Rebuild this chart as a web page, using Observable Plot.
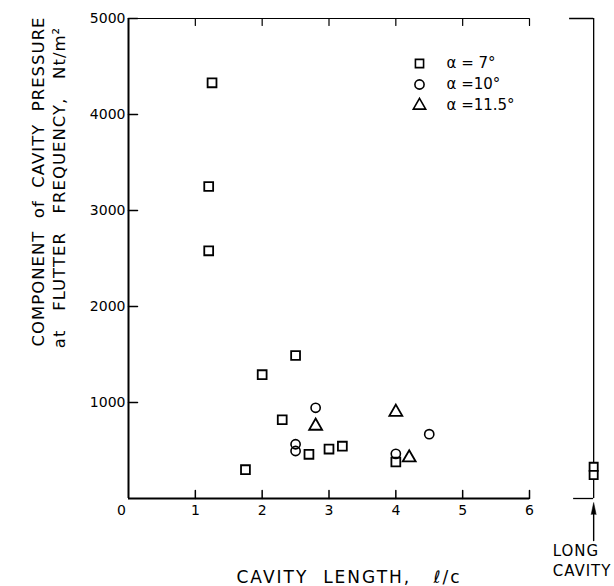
<!DOCTYPE html>
<html><head><meta charset="utf-8">
<script src="https://cdn.jsdelivr.net/npm/d3@7"></script>
<script src="https://cdn.jsdelivr.net/npm/@observablehq/plot@0.6"></script>
<style>
body{margin:0;background:#fff;}
</style></head><body><div id="chart"></div>
<script>
// tick values
const xTicks = [0, 1, 2, 3, 4, 5, 6];
const yTicks = [0, 1000, 2000, 3000, 4000, 5000];
// alpha = 7 deg (squares)
const sq7X = [1.25, 1.2, 1.2, 2.0, 2.5, 2.3, 1.75, 2.7, 3.0, 3.2, 4.0];
const sq7Y = [4330, 3250, 2580, 1290, 1490, 820, 300, 460, 515, 545, 380];
// alpha = 10 deg (circles)
const ci10X = [2.8, 2.5, 2.5, 4.0, 4.5];
const ci10Y = [945, 565, 495, 465, 670];
// alpha = 11.5 deg (triangles)
const tr115X = [2.8, 4.0, 4.2];
const tr115Y = [755, 900, 425];
// long cavity (alpha = 7 deg)
const longCavityY = [330, 245];
// texts
const legendLabels = ["α = 7°", "α =10°", "α =11.5°"];
const legendSymbols = ["square", "circle", "triangle"];
const xLabel = "CAVITY  LENGTH,   ℓ/c";
const yLabel1 = "COMPONENT  of  CAVITY  PRESSURE";
const yLabel2 = "at   FLUTTER   FREQUENCY,   Nt/m²";
const longLabel = "LONG\nCAVITY";

const LONG_X = 6.96; // column where the long-cavity results are plotted
const font = "DejaVu Sans";
const toPts = (xs, ys) => xs.map((x, i) => ({x, y: ys[i]}));

const marks = [
  // frame lines
  Plot.ruleX([0], {y1: 0, y2: 5000, strokeWidth: 2}),
  Plot.ruleY([0], {x1: 0, x2: 6, strokeWidth: 2}),
  Plot.ruleY([5000], {x1: 0, x2: 6, strokeWidth: 1.2}),
  // inward ticks
  Plot.vector(xTicks.slice(1), {x: d => d, y: 0, length: 8, r: 0, anchor: "start", rotate: 0, strokeWidth: 1.5}),
  Plot.vector(xTicks.slice(1), {x: d => d, y: 5000, length: 7, r: 0, anchor: "start", rotate: 180, strokeWidth: 1.2}),
  Plot.vector(yTicks.slice(1), {x: 0, y: d => d, length: 9, r: 0, anchor: "start", rotate: 90, strokeWidth: 1.5}),
  // tick labels
  Plot.text(xTicks.slice(1), {x: d => d, y: 0, text: d => String(d), dy: 12, fontSize: 14, fontFamily: font}),
  Plot.text([0], {x: d => d, y: 0, text: d => String(d), dx: -7, dy: 12, fontSize: 14, fontFamily: font}),
  Plot.text(yTicks.slice(1), {x: 0, y: d => d, text: d => String(d), textAnchor: "end", dx: -3, fontSize: 14, fontFamily: font}),
  // axis titles
  Plot.text([yLabel1], {frameAnchor: "left", text: d => d, rotate: -90, textAnchor: "middle", lineAnchor: "middle", dx: -90, dy: -77, fontSize: 16.5, fontFamily: font}),
  Plot.text([yLabel2], {frameAnchor: "left", text: d => d, rotate: -90, textAnchor: "middle", lineAnchor: "middle", dx: -69, dy: -71, fontSize: 16.5, fontFamily: font}),
  Plot.text([xLabel], {frameAnchor: "bottom", text: d => d, textAnchor: "middle", lineAnchor: "middle", dx: 20, dy: 79, fontSize: 17, fontFamily: font}),
  // data
  Plot.dot(toPts(sq7X, sq7Y), {x: "x", y: "y", symbol: "square", r: 5, stroke: "black", strokeWidth: 1.8}),
  Plot.dot(toPts(ci10X, ci10Y), {x: "x", y: "y", symbol: "circle", r: 4.6, stroke: "black", strokeWidth: 1.6}),
  Plot.dot(toPts(tr115X, tr115Y), {x: "x", y: "y", symbol: "triangle", r: 4.8, stroke: "black", strokeWidth: 1.8}),
  // long cavity column
  Plot.ruleX([LONG_X], {y1: 0, y2: 5000, strokeWidth: 1.3}),
  Plot.ruleY([5000], {x1: LONG_X - 0.36, x2: LONG_X, strokeWidth: 1.5}),
  Plot.ruleY([0], {x1: LONG_X - 0.3, x2: LONG_X, strokeWidth: 1.3}),
  Plot.dot(longCavityY, {x: () => LONG_X, y: d => d, symbol: "square", r: 4.6, stroke: "black", fill: "white", strokeWidth: 1.8}),
  Plot.vector([0], {x: () => LONG_X, y: d => d, length: 30, r: 0, anchor: "start", rotate: 0, dy: 42, strokeWidth: 1.4}),
  Plot.vector([0], {x: () => LONG_X, y: d => d, length: 12, r: 2.5, shape: "spike", anchor: "end", rotate: 0, dy: 4, fill: "black", stroke: "black", strokeWidth: 0.5}),
  Plot.text([longLabel], {x: () => LONG_X, y: () => 0, text: d => d, textAnchor: "start", lineAnchor: "top", dx: -41, dy: 44, lineHeight: 1.3, fontSize: 15, fontFamily: font}),
  // legend
  ...legendLabels.flatMap((label, i) => [
    Plot.dot([label], {frameAnchor: "top-left", dx: 291, dy: 45 + 21 * i, symbol: legendSymbols[i], r: 4.6, stroke: "black", strokeWidth: 1.6}),
    Plot.text([label], {frameAnchor: "top-left", text: d => d, textAnchor: "start", lineAnchor: "middle", dx: 318, dy: 45 + 21 * i, fontSize: 15, fontFamily: font})
  ])
];

const chart = Plot.plot({
  width: 614,
  height: 586,
  marginLeft: 128,
  marginRight: 85,
  marginTop: 18,
  marginBottom: 88,
  x: {domain: [0, 6], axis: null},
  y: {domain: [0, 5000], axis: null},
  style: {background: "white", color: "black", fontFamily: font},
  marks
});
// letter spacing for the lettered titles
const spacing = new Map([[yLabel1, "1px"], [yLabel2, "1px"], [xLabel, "2px"], [longLabel.replace("\n", ""), "1px"]]);
d3.select(chart).selectAll("text").each(function() {
  const s = spacing.get(this.textContent);
  if (s) this.style.letterSpacing = s;
});
document.getElementById("chart").appendChild(chart);
</script></body></html>
